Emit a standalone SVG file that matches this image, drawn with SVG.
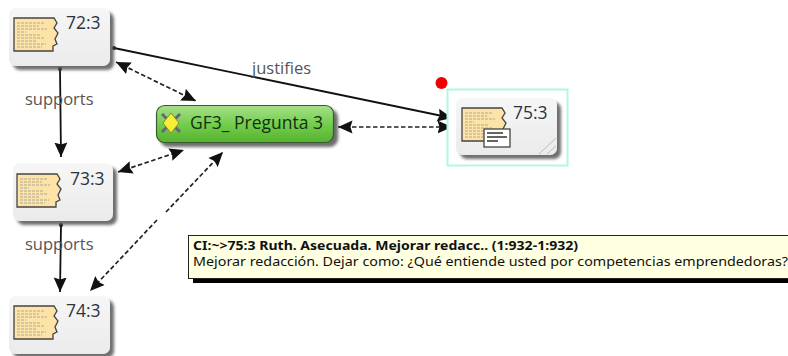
<svg xmlns="http://www.w3.org/2000/svg" width="788" height="356" viewBox="0 0 788 356">
<style>
text{font-family:"Open Sans","Liberation Sans",sans-serif}
.id{font-size:17.500px;fill:#2a3440}
.lb{font-size:16.500px;fill:#555}
.solid{fill:none;stroke:#111;stroke-width:1.8}
.dash{fill:none;stroke:#222;stroke-width:1.7;stroke-dasharray:4.500 2.500}
.card{fill:url(#cg);filter:url(#sh)}
.tip{font-size:12px;fill:#111;font-family:"Noto Sans","Liberation Sans",sans-serif}
</style>
<defs>
<linearGradient id="cg" x1="0" y1="0" x2="0" y2="1"><stop offset="0" stop-color="#f6f6f6"/><stop offset="1" stop-color="#ebebeb"/></linearGradient>
<linearGradient id="gg" x1="0" y1="0" x2="0" y2="1"><stop offset="0" stop-color="#a6e08a"/><stop offset="0.5" stop-color="#74ce4e"/><stop offset="1" stop-color="#55b32c"/></linearGradient>
<filter id="sh" x="-15%" y="-15%" width="135%" height="140%"><feDropShadow dx="4" dy="4" stdDeviation="1.600" flood-color="#555" flood-opacity="0.85"/></filter>
<marker id="a" markerUnits="userSpaceOnUse" markerWidth="16" markerHeight="14" refX="14.500" refY="7" orient="auto-start-reverse"><path d="M0 0.500L14.500 7L0 13.500L2 7Z" fill="#111"/></marker>
<g id="doc">
<path d="M0 0H40L43 5L40 10L44 15L41 21L43 26L39 28V33H0Z" fill="#fde3a5" stroke="#444" stroke-width="1.300"/>
<path d="M3 5H31M3 8H25M3 11H33M3 14H12M3 17H27M3 20H30M3 23H22M3 26H32M3 29H28" stroke="#999" stroke-width="0.800" stroke-dasharray="3 1" fill="none"/>
</g>
</defs>
<rect width="788" height="356" fill="#fff"/>
<g id="connectors">
<circle cx="114" cy="48" r="2" fill="#111"/>
<path class="solid" d="M114 48L452 118" marker-end="url(#a)"/>
<circle cx="60" cy="69" r="2" fill="#111"/>
<path class="solid" d="M60 69L61 157" marker-end="url(#a)"/>
<circle cx="61" cy="225" r="2" fill="#111"/>
<path class="solid" d="M61 225L60 292" marker-end="url(#a)"/>
<path class="dash" d="M116 62L196 101" marker-start="url(#a)" marker-end="url(#a)"/>
<path class="dash" d="M338 127L452 127" marker-start="url(#a)" marker-end="url(#a)"/>
<path class="dash" d="M118 172L184 150" marker-start="url(#a)" marker-end="url(#a)"/>
<path class="dash" d="M166 212L223 152" marker-end="url(#a)"/>
<path class="dash" d="M157 220L90 291" marker-end="url(#a)"/>
<text class="lb" x="252" y="74">justifies</text>
<text class="lb" x="25" y="105">supports</text>
<text class="lb" x="25" y="250">supports</text>
</g>
<g id="node-72-3">
<rect class="card" x="9" y="8" width="101" height="58" rx="7"/>
<use href="#doc" x="14" y="18"/>
<text class="id" x="66" y="29">72:3</text>
</g>
<g id="node-73-3">
<rect class="card" x="13" y="163" width="100" height="58" rx="7"/>
<use href="#doc" x="17" y="174"/>
<text class="id" x="70" y="185">73:3</text>
</g>
<g id="node-74-3">
<rect class="card" x="9" y="296" width="101" height="58" rx="7"/>
<use href="#doc" x="14" y="306"/>
<text class="id" x="66" y="317">74:3</text>
</g>
<g id="node-gf3">
<rect x="156.500" y="105.500" width="177" height="37" rx="8" fill="url(#gg)" stroke="#3b5a30" stroke-width="1.200" filter="url(#sh)"/>
<path d="M162 114L180 132M180 114L162 132" stroke="#667" stroke-width="3"/>
<path d="M171 113L179 123L171 133L163 123Z" fill="#f7ee3a" stroke="#8a8a30"/>
<text x="190" y="129" font-size="17.500" fill="#123012">GF3_ Pregunta 3</text>
</g>
<g id="node-75-3">
<circle cx="441.500" cy="83" r="6" fill="#ee0000"/>
<rect x="447.500" y="89.500" width="120" height="76" fill="#fff" stroke="#b4f5e4" stroke-width="2"/>
<rect class="card" x="456" y="98" width="101" height="57" rx="7"/>
<use href="#doc" x="462" y="108"/>
<rect x="484" y="129" width="26" height="18" fill="#fff" stroke="#444" stroke-width="1.300"/>
<path d="M487 133H503M487 137H507M487 141H498" stroke="#333" stroke-width="1.400" fill="none"/>
<path d="M539 154L556 138M547 154L556 146" stroke="#bbb" stroke-width="1" fill="none"/>
<text class="id" x="513" y="119">75:3</text>
</g>
<g id="tooltip">
<rect x="193" y="240" width="595" height="43" fill="#000"/>
<rect x="188.500" y="235.500" width="600" height="43" fill="#ffffe1" stroke="#222"/>
<text class="tip" x="193" y="250" font-weight="700" textLength="385" lengthAdjust="spacingAndGlyphs">CI:~&gt;75:3 Ruth. Asecuada. Mejorar redacc.. (1:932-1:932)</text>
<text class="tip" x="193" y="266" textLength="595" lengthAdjust="spacingAndGlyphs">Mejorar redacción. Dejar como: ¿Qué entiende usted por competencias emprendedoras?</text>
</g>
</svg>
